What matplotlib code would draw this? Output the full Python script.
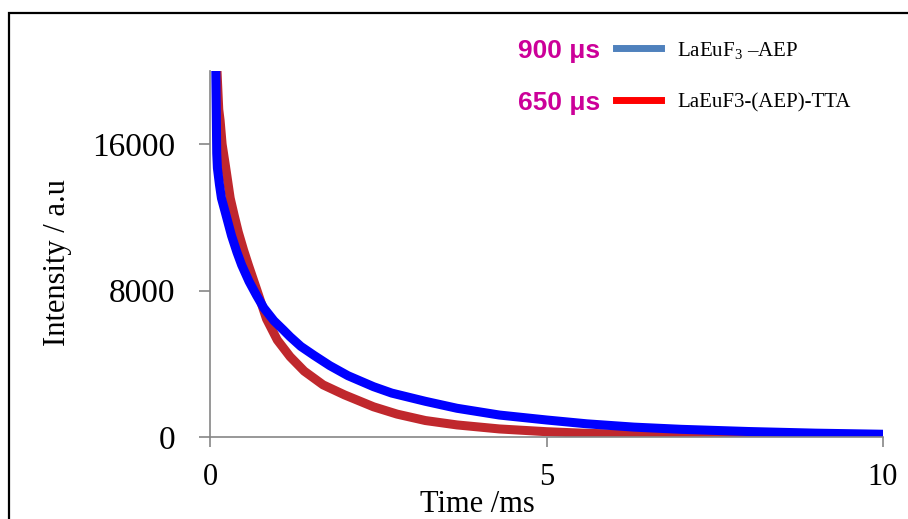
import matplotlib
matplotlib.use("Agg")
import matplotlib.pyplot as plt
from matplotlib.lines import Line2D
from matplotlib.patches import Rectangle

# decay curves (time in ms, intensity in a.u.)
t_aep = [0.08, 0.10, 0.11, 0.14, 0.17, 0.24, 0.32, 0.40, 0.47, 0.58, 0.69,
         0.80, 0.95, 1.09, 1.19, 1.35, 1.55, 1.78, 2.05, 2.43, 2.70, 3.20,
         3.67, 4.30, 5.00, 5.60, 6.30, 7.00, 8.00, 9.00, 10.00]
i_aep = [22000, 15500, 14700, 13800, 13050, 12100, 11000, 10100, 9400, 8500, 7750,
         7050, 6350, 5850, 5480, 4950, 4450, 3900, 3350, 2750, 2400, 1950,
         1570, 1200, 930, 720, 540, 420, 300, 210, 150]

t_tta = [0.08, 0.11, 0.13, 0.15, 0.18, 0.23, 0.30, 0.36, 0.42, 0.50, 0.57,
         0.69, 0.84, 1.00, 1.19, 1.40, 1.68, 2.00, 2.43, 2.78, 3.20, 3.67,
         4.30, 5.00, 5.60, 6.30, 7.00, 8.00, 9.00, 10.00]
i_tta = [22000, 19500, 17900, 17300, 16000, 14800, 13050, 12100, 11200, 10200, 9400,
         8100, 6450, 5300, 4390, 3600, 2850, 2300, 1650, 1250, 900, 660,
         440, 290, 200, 140, 90, 50, 25, 10]

x_ticks = [0, 5, 10]
y_ticks = [0, 8000, 16000]
lifetimes = ["900 μs", "650 μs"]
names = [r"LaEuF$_\mathregular{3}$ –AEP", "LaEuF3-(AEP)-TTA"]

plt.rcParams["font.family"] = ["Liberation Serif", "DejaVu Serif"]
plt.rcParams["mathtext.fontset"] = "custom"
plt.rcParams["mathtext.rm"] = "Liberation Serif"

W, H = 908, 519
fig = plt.figure(figsize=(W / 100, H / 100), dpi=100)
ax = fig.add_axes([210 / W, 1 - 437 / H, 673 / W, 366 / H])

ax.plot(t_tta, i_tta, color="#c0282d", lw=6.5, solid_capstyle="butt",
        solid_joinstyle="round")
ax.plot(t_aep, i_aep, color="#0000ff", lw=6.5, solid_capstyle="butt",
        solid_joinstyle="round")

ax.set_xlim(0, 10)
ax.set_ylim(0, 20000)
ax.set_xticks(x_ticks)
ax.set_yticks(y_ticks)
ax.set_xticklabels([str(v) for v in x_ticks], fontsize=22)
ax.set_yticklabels([str(v) for v in y_ticks], fontsize=24)
ax.tick_params(axis="both", color="#868686", width=1.2, length=8, pad=17)
ax.tick_params(axis="x", length=7, pad=12)

for s in ["top", "right"]:
    ax.spines[s].set_visible(False)
for s in ["left", "bottom"]:
    ax.spines[s].set_color("#868686")
    ax.spines[s].set_linewidth(1.2)

fig.text(57 / W, 1 - 263 / H, "Intensity / a.u", rotation=90,
         ha="center", va="center", fontsize=22)
fig.text(477 / W, 1 - 512 / H, "Time /ms", ha="center", va="baseline",
         fontsize=22)

# legend drawn by hand
legend_y = [48, 100]
legend_colors = ["#4f81bd", "#ff0000"]
for y, lab, name, c in zip(legend_y, lifetimes, names, legend_colors):
    fig.add_artist(Line2D([616 / W, 661 / W], [1 - y / H, 1 - y / H],
                          color=c, lw=5))
    fig.text(600 / W, 1 - (y + 3) / H, lab, ha="right", va="center",
             fontsize=19, fontweight="bold", color="#cc0099",
             family=["Liberation Sans", "DejaVu Sans"])
    fig.text(677 / W, 1 - (y + 3) / H, name, ha="left", va="center",
             fontsize=15)

# outer frame, cut off at the right and bottom
fig.add_artist(Rectangle((9 / W, -0.2), 1.5, 1.2 - 13 / H, fill=False,
                         edgecolor="black", lw=1.6, transform=fig.transFigure,
                         clip_on=False))

fig.savefig("out.png", dpi=100)
